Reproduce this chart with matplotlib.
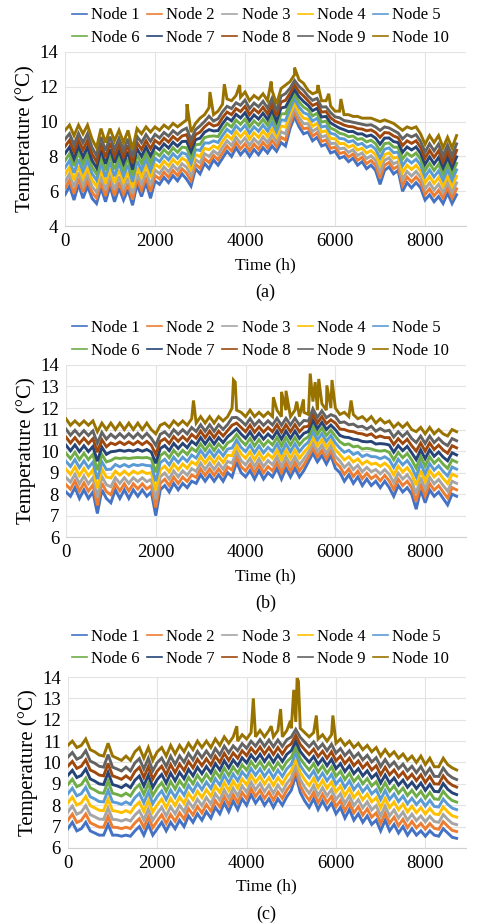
import numpy as np
import matplotlib
matplotlib.use("Agg")
import matplotlib.pyplot as plt
from matplotlib.lines import Line2D
import matplotlib.transforms as mtransforms

plt.rcParams['font.family'] = ['Liberation Serif', 'DejaVu Serif']

# ---------------- data ----------------
hours = list(range(0, 8800, 100))  # 0 .. 8700

node_names = ["Node 1", "Node 2", "Node 3", "Node 4", "Node 5",
              "Node 6", "Node 7", "Node 8", "Node 9", "Node 10"]
node_colors = ["#4472C4", "#ED7D31", "#A5A5A5", "#FFC000", "#5B9BD5",
               "#70AD47", "#264478", "#9E480E", "#636363", "#997300"]
# relative position of each node between Node 1 and Node 10
node_position = [0.0, 0.10, 0.20, 0.31, 0.42, 0.53, 0.64, 0.75, 0.86, 1.0]

# panel (a)
a_node1 = [5.8, 6.3, 5.5, 6.4, 5.6, 6.3, 5.6, 5.3, 6.2, 5.4,
           6.3, 5.4, 6.2, 5.5, 6.1, 5.2, 6.4, 5.7, 6.5, 5.6,
           6.6, 6.4, 6.8, 6.5, 6.9, 6.6, 7.0, 6.7, 6.3, 7.3,
           7.0, 7.6, 7.3, 7.8, 7.5, 7.9, 8.3, 8.0, 8.5, 8.1,
           8.4, 8.0, 8.4, 8.1, 8.5, 8.2, 8.6, 8.3, 8.8, 8.6,
           9.6, 10.3, 9.7, 9.3, 9.4, 8.9, 9.1, 8.6, 8.7, 8.2,
           8.3, 7.9, 8.0, 7.7, 7.9, 7.5, 7.7, 7.3, 7.5, 7.2,
           6.4, 7.2, 7.4, 7.0, 7.2, 6.0, 6.5, 6.2, 6.5, 6.2,
           5.5, 5.8, 5.4, 5.7, 5.3, 5.9, 5.3, 5.8]
a_node10 = [9.5, 9.8, 9.2, 9.8, 9.3, 9.8, 9.0, 8.5, 9.6, 8.8,
            9.6, 8.9, 9.5, 8.8, 9.5, 8.4, 9.6, 9.3, 9.7, 9.4,
            9.7, 9.5, 9.8, 9.6, 9.9, 9.7, 9.9, 10.1, 9.4, 9.9,
            10.2, 10.4, 10.8, 10.4, 10.6, 11.0, 11.3, 11.2, 11.5, 11.4,
            11.7, 11.2, 11.5, 11.3, 11.6, 11.2, 11.8, 11.0, 11.9, 12.1,
            12.3, 12.7, 12.4, 12.2, 11.8, 11.6, 11.7, 11.2, 11.2, 10.9,
            10.6, 10.6, 10.4, 10.4, 10.3, 10.3, 10.2, 10.2, 10.2, 10.1,
            10.0, 10.1, 10.0, 9.9, 9.7, 9.5, 9.7, 9.6, 9.7, 9.3,
            8.7, 9.2, 8.8, 9.2, 8.5, 9.1, 8.5, 9.2]
a_spike_hours = [2710, 3220, 3540, 3880, 4580, 5100, 5620, 5860, 6130]
a_spike_temps = [11.0, 11.7, 12.15, 12.1, 12.3, 13.1, 12.1, 11.6, 11.3]

# panel (b)
b_node1 = [8.1, 7.9, 8.3, 7.8, 8.2, 7.8, 8.1, 7.1, 8.2, 7.8,
           7.6, 8.2, 7.8, 8.2, 7.8, 8.2, 7.9, 8.2, 7.9, 8.1,
           7.0, 8.2, 8.4, 8.1, 8.5, 8.2, 8.5, 8.3, 8.6, 8.5,
           8.9, 8.6, 8.9, 8.6, 8.9, 8.6, 9.0, 8.8, 9.5, 9.0,
           8.8, 9.1, 8.7, 9.1, 8.7, 9.0, 8.8, 9.2, 8.7, 9.2,
           8.8, 9.2, 8.8, 9.1, 9.5, 9.9, 9.5, 9.8, 9.4, 9.8,
           9.2, 9.0, 8.6, 8.9, 8.5, 8.8, 8.4, 8.7, 8.4, 8.6,
           8.3, 8.6, 8.3, 7.9, 8.4, 8.1, 8.3, 8.0, 7.3, 8.2,
           7.6, 8.2, 7.9, 8.1, 7.8, 7.5, 8.0, 7.9]
b_node10 = [11.5, 11.2, 11.4, 11.2, 11.4, 11.2, 11.4, 10.9, 11.3, 11.0,
            11.3, 11.0, 11.3, 11.0, 11.3, 11.0, 11.3, 11.0, 11.3, 11.0,
            10.8, 11.2, 11.3, 11.1, 11.4, 11.2, 11.4, 11.2, 11.5, 11.3,
            11.6, 11.3, 11.6, 11.3, 11.6, 11.4, 11.6, 12.0, 11.9, 11.8,
            11.6, 11.9, 11.6, 11.8, 11.6, 11.8, 11.6, 11.9, 11.6, 11.9,
            11.6, 11.9, 11.6, 11.8, 11.7, 12.3, 11.9, 12.2, 11.9, 12.0,
            12.0, 11.7, 11.8, 11.6, 11.7, 11.5, 11.6, 11.4, 11.6, 11.3,
            11.5, 11.3, 11.4, 11.1, 11.3, 11.1, 11.3, 11.0, 10.9, 11.1,
            10.8, 11.1, 10.8, 11.0, 10.8, 10.7, 11.0, 10.9]
b_spike_hours = [2840, 3730, 3770, 4620, 4800, 4900, 5140, 5290,
                 5440, 5550, 5630, 5810, 5925, 6350]
b_spike_temps = [12.35, 13.3, 13.2, 12.5, 12.75, 12.8, 12.3, 12.4,
                 13.6, 13.2, 13.35, 13.05, 13.3, 12.35]

# panel (c)
c_node1 = [6.9, 7.2, 6.8, 6.9, 7.2, 6.8, 6.7, 6.6, 6.6, 7.1,
           6.6, 6.6, 6.55, 6.6, 6.55, 6.8, 7.0, 6.6, 7.1, 6.6,
           6.9, 7.2, 6.8, 7.2, 6.9, 7.3, 7.0, 7.5, 7.2, 7.6,
           7.3, 7.7, 7.4, 7.9, 7.6, 8.1, 7.7, 8.2, 7.8, 8.3,
           8.0, 8.5, 8.1, 8.4, 8.0, 8.3, 7.9, 8.3, 8.0, 8.4,
           8.7, 9.4, 8.6, 8.2, 7.9, 8.3, 7.8, 8.2, 7.8, 8.1,
           7.6, 7.9, 7.4, 7.8, 7.3, 7.6, 7.2, 7.5, 7.1, 7.3,
           6.8, 7.3, 6.8, 7.1, 6.7, 7.0, 6.6, 6.9, 6.6, 6.8,
           6.55, 6.8, 6.6, 6.55, 6.9, 6.7, 6.5, 6.45]
c_node10 = [10.8, 11.0, 10.7, 10.8, 11.1, 10.6, 10.5, 10.35, 10.3, 10.9,
            10.3, 10.2, 10.1, 10.3, 10.1, 10.5, 10.7, 10.2, 10.7, 10.1,
            10.5, 10.7, 10.3, 10.8, 10.4, 10.8, 10.5, 10.9, 10.6, 11.0,
            10.7, 11.0, 10.7, 11.1, 10.8, 11.2, 10.9, 11.2, 11.0, 11.3,
            11.1, 11.4, 11.2, 11.5, 11.2, 11.5, 11.2, 11.5, 11.2, 11.5,
            11.6, 11.9, 11.6, 11.4, 11.2, 11.4, 11.1, 11.3, 11.0, 11.3,
            10.9, 11.1, 10.8, 11.0, 10.7, 10.9, 10.6, 10.8, 10.5, 10.7,
            10.3, 10.6, 10.3, 10.5, 10.2, 10.4, 10.1, 10.3, 10.0, 10.3,
            9.9, 10.2, 9.8, 9.8, 10.2, 9.9, 9.75, 9.65]
c_spike_hours = [3780, 4150, 4550, 4760, 4980, 5055, 5130, 5160, 5560, 5930]
c_spike_temps = [11.7, 13.0, 11.7, 12.5, 11.95, 13.4, 13.95, 13.8, 12.2, 12.2]

panels = [
    dict(low=a_node1, high=a_node10, sh=a_spike_hours, st=a_spike_temps,
         ylim=(4, 14), yticks=[4, 6, 8, 10, 12, 14], tag="(a)",
         rect=[0.136, 0.755, 0.838, 0.1887], legend_y=0.971),
    dict(low=b_node1, high=b_node10, sh=b_spike_hours, st=b_spike_temps,
         ylim=(6, 14), yticks=[6, 7, 8, 9, 10, 11, 12, 13, 14], tag="(b)",
         rect=[0.138, 0.418, 0.836, 0.1866], legend_y=0.632),
    dict(low=c_node1, high=c_node10, sh=c_spike_hours, st=c_spike_temps,
         ylim=(6, 14), yticks=[6, 7, 8, 9, 10, 11, 12, 13, 14], tag="(c)",
         rect=[0.142, 0.0813, 0.832, 0.1852], legend_y=0.298),
]

fig = plt.figure(figsize=(4.78, 9.23), dpi=100)
t = np.array(hours, dtype=float)
legend_order = [0, 5, 1, 6, 2, 7, 3, 8, 4, 9]

for p in panels:
    ax = fig.add_axes(p["rect"])
    low = np.array(p["low"])
    high = np.array(p["high"])
    for k in range(10):
        if k < 9:
            y = low + (high - low) * node_position[k]
            tt = t
        else:
            tt = np.concatenate([t, np.array(p["sh"], dtype=float)])
            y = np.concatenate([high, np.array(p["st"])])
            order = np.argsort(tt, kind="stable")
            tt, y = tt[order], y[order]
        ax.plot(tt, y, color=node_colors[k], lw=2.1, solid_joinstyle="miter")
    ax.set_xlim(0, 8900)
    ax.set_ylim(*p["ylim"])
    ax.set_xticks([0, 2000, 4000, 6000, 8000])
    ax.set_yticks(p["yticks"])
    ax.grid(True, color="#E3E3E3", lw=0.8)
    ax.set_axisbelow(True)
    for s in ["top", "right", "left"]:
        ax.spines[s].set_visible(False)
    ax.spines["bottom"].set_color("#D0D0D0")
    ax.tick_params(length=0, labelsize=13.5, pad=5)
    ax.set_xlabel("Time (h)", fontsize=12.5, labelpad=5)
    ax.set_ylabel("Temperature (°C)", fontsize=15, labelpad=3)
    tag_tr = ax.transAxes + mtransforms.ScaledTranslation(0, -66 / 100, fig.dpi_scale_trans)
    ax.text(0.5, 0.0, p["tag"], transform=tag_tr, ha="center",
            va="center", fontsize=13)
    handles = [Line2D([], [], color=node_colors[k], lw=1.2) for k in range(10)]
    fig.legend([handles[i] for i in legend_order],
               [node_names[i] for i in legend_order],
               loc="center", bbox_to_anchor=(0.545, p["legend_y"]), ncol=5,
               frameon=False, fontsize=12, handlelength=0.9,
               handletextpad=0.25, columnspacing=0.45, labelspacing=0.4,
               borderpad=0.1)

fig.savefig("out.png", dpi=100)
